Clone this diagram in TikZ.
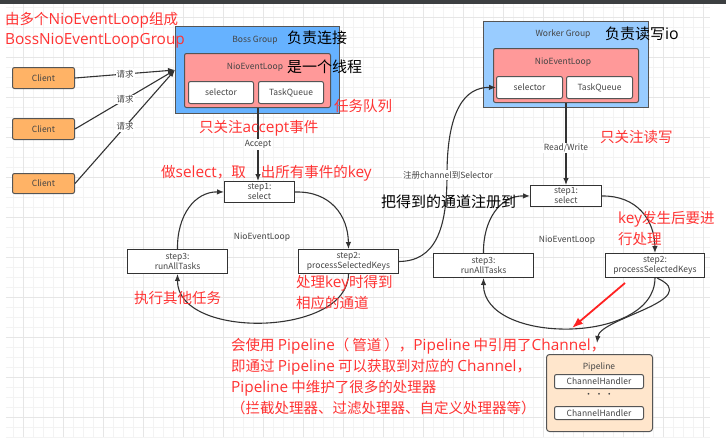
\documentclass[tikz,border=0pt]{standalone}
\usepackage{fontspec}
\setmainfont{Noto Sans CJK SC}
\newfontfamily\lat[Scale=1.06]{Open Sans}
\usetikzlibrary{arrows.meta}
\definecolor{redtxt}{HTML}{FF3333}
\definecolor{redarr}{HTML}{FF2222}
\definecolor{lbl}{HTML}{444444}
\definecolor{edge}{HTML}{333333}
\definecolor{bord}{HTML}{555555}
\definecolor{clientfill}{HTML}{FFB366}
\definecolor{bossfill}{HTML}{66B2FF}
\definecolor{workerfill}{HTML}{99CCFF}
\definecolor{niofill}{HTML}{FF9999}
\definecolor{pipefill}{HTML}{FFE6CC}
\definecolor{gridminor}{HTML}{F3F3F3}
\definecolor{gridmajor}{HTML}{E6E6E6}
\definecolor{topbar}{HTML}{3C3F41}
\tikzset{
  box/.style={draw=bord, line width=1pt, anchor=north west, inner sep=0pt},
  clientbox/.style={box, fill=clientfill, rounded corners=2pt, font=\fontsize{8.5}{10}\selectfont, text=lbl},
  groupbox/.style={box, fill=#1},
  niobox/.style={box, fill=niofill, rounded corners=2pt},
  innerbox/.style={box, fill=white, rounded corners=2pt, font=\fontsize{8.5}{10}\selectfont, text=lbl},
  stepbox/.style={box, fill=white, draw=edge, line width=1pt, align=center, font=\fontsize{8.5}{10}\selectfont, text=lbl},
  pipebox/.style={box, fill=pipefill, rounded corners=3pt},
  small/.style={font=\fontsize{8.5}{10}\selectfont, text=lbl, inner sep=1pt},
  smallbg/.style={small, fill=white},
  redbig/.style={text=redtxt, font=\fontsize{14.5}{21}\selectfont, anchor=west, inner sep=0pt, align=left},
  blackbig/.style={text=black, font=\fontsize{15}{21}\selectfont, anchor=west, inner sep=0pt},
  conn/.style={draw=edge, line width=1.1pt, -{Latex[length=7pt,width=5.5pt]}},
}
\begin{document}
\begin{tikzpicture}[x=1pt,y=-1pt]
\useasboundingbox (0,0) rectangle (726,445);
% background grid
\foreach \x in {13,23,...,703} \draw[gridminor, line width=0.6pt] (\x,4) -- (\x,437);
\foreach \y in {7,17,...,437} \draw[gridminor, line width=0.6pt] (6,\y) -- (710,\y);
\foreach \x in {23,63,...,703} \draw[gridmajor, line width=0.8pt] (\x,4) -- (\x,437);
\foreach \y in {17,57,...,417} \draw[gridmajor, line width=0.8pt] (6,\y) -- (710,\y);
\fill[topbar] (0,0) rectangle (726,4);

% clients
\node[clientbox, minimum width=62, minimum height=21] (c1) at (12,67) {Client};
\node[clientbox, minimum width=62, minimum height=21] (c2) at (12,118) {Client};
\node[clientbox, minimum width=62, minimum height=20] (c3) at (12,173) {Client};

% boss group
\node[groupbox=bossfill, minimum width=164, minimum height=87] (bg) at (175,26) {};
\node[small] (bgl) at (255,40) {Boss Group};
\node[niobox, minimum width=146, minimum height=54] (bn) at (184,53) {};
\node[small] (bnl) at (255,67) {NioEventLoop};
\node[innerbox, minimum width=65, minimum height=22] (bs) at (188,81) {selector};
\node[innerbox, minimum width=65, minimum height=22] (bt) at (258,81) {TaskQueue};

% worker group
\node[groupbox=workerfill, minimum width=165, minimum height=86] (wg) at (483,21) {};
\node[small] (wgl) at (563,34) {Worker Group};
\node[niobox, minimum width=145, minimum height=54] (wn) at (493,48) {};
\node[small] (wnl) at (563,62) {NioEventLoop};
\node[innerbox, minimum width=66, minimum height=22] (ws) at (496,76) {selector};
\node[innerbox, minimum width=66, minimum height=22] (wt) at (566,76) {TaskQueue};

% boss loop steps
\node[stepbox, minimum width=70, minimum height=21] (b1) at (224,181) {step1:\\select};
\node[stepbox, minimum width=100, minimum height=24] (b2) at (298,249) {step2:\\processSelectedKeys};
\node[stepbox, minimum width=100, minimum height=24] (b3) at (127,249) {step3:\\runAllTasks};
\node[small] (bll) at (262,237) {NioEventLoop};

% worker loop steps
\node[stepbox, minimum width=71, minimum height=21] (w1) at (530,185) {step1:\\select};
\node[stepbox, minimum width=99, minimum height=24] (w2) at (605,253) {step2:\\processSelectedKeys};
\node[stepbox, minimum width=100, minimum height=24] (w3) at (433,253) {step3:\\runAllTasks};
\node[small] (wll) at (567,240) {NioEventLoop};

% pipeline
\node[pipebox, minimum width=106, minimum height=77] (pl) at (546,354) {};
\node[small] (pll) at (599,367) {Pipeline};
\node[innerbox, minimum width=89, minimum height=14] (ch1) at (554,374) {ChannelHandler};
\node[small] (dots) at (599,395) {· · ·};
\node[innerbox, minimum width=89, minimum height=13] (ch2) at (554,406) {ChannelHandler};

% client connectors
\coordinate (bossin) at (175,70);
\draw[conn] (c1.east) -- node[smallbg] (q1) {请求} (bossin);
\draw[conn] (c2.east) -- node[smallbg] (q2) {请求} (bossin);
\draw[conn] (c3.east) -- node[smallbg] (q3) {请求} (bossin);

% accept
\draw[conn] (bt.south west |- bn.south) -- node[smallbg] (acc) {Accept} (bt.south west |- b1.north);
% read/write
\draw[conn] (wt.south west |- wn.south) -- node[smallbg, pos=0.55] (rw) {Read/Write} (wt.south west |- w1.north);

% boss loop
\draw[conn] (b1.east) .. controls (330,191) and (348,215) .. (b2.north);
\draw[conn] (b3.north) .. controls (177,215) and (195,191.5) .. (b1.west);
\draw[conn] (b2.south) .. controls (348,337) and (177,340) .. (b3.south);

% worker loop
\draw[conn] (w1.east) .. controls (637,195.5) and (654.5,220) .. (w2.north);
\draw[conn] (w3.north) .. controls (483,220) and (500,195.5) .. (w1.west);
\draw[conn] (w2.south) .. controls (654.5,345) and (483,345) .. (w3.south);
\coordinate (plin) at (597,343);
\draw[conn] ([xshift=2pt]w2.south) .. controls (705,300) and (600,318) .. (plin);

% register channel
\coordinate (regmid) at (447,175);
\draw[draw=edge, line width=1.1pt] (b2.east) .. controls (435,261) and (447,230) .. (regmid);
\draw[conn] (regmid) .. controls (447,110) and (465,87) .. (ws.west);
\node[smallbg] (regl) at (448,175) {注册channel到Selector};

% red annotation arrow
\coordinate (ra1) at (625,283);
\coordinate (ra2) at (572,328);
\draw[draw=redarr, line width=1.8pt, -{Latex[length=11pt,width=8pt]}] (ra1) -- (ra2);

% annotations
\node[redbig] (t1) at (5,20) {由多个{\lat NioEventLoop}组成};
\node[redbig] (t2) at (5,41) {\lat BossNioEventLoopGroup};
\node[blackbig] (k1) at (287,38) {负责连接};
\node[blackbig] (k2) at (287,67) {是一个线程};
\node[redbig] (t3) at (334,106) {任务队列};
\node[redbig] (t4) at (199,128) {只关注{\lat accept}事件};
\node[redbig] (t5) at (161,173) {做{\lat select}，取\hspace{15pt}出所有事件的{\lat key}};
\node[redbig] (t6) at (134,298) {执行其他任务};
\node[redbig, anchor=north west] (t7) at (296,275) {处理{\lat key}时得到\\相应的通道};
\node[blackbig] (k3) at (381,202) {把得到的通道注册到};
\node[blackbig] (k4) at (605,34) {负责读写{\lat io}};
\node[redbig] (t8) at (600,137) {只关注读写};
\node[redbig, anchor=north west] (t9) at (618,211) {{\lat key}发生后要进\\行处理};
\node[redbig, anchor=north west] (t10) at (231,338) {会使用 {\lat Pipeline}（\hspace{3pt}管道\hspace{3pt}），{\lat Pipeline} 中引用了{\lat Channel}，\\即通过 {\lat Pipeline} 可以获取到对应的 {\lat Channel}，\\{\lat Pipeline} 中维护了很多的处理器\\（拦截处理器、过滤处理器、自定义处理器等）};
\end{tikzpicture}
\end{document}
